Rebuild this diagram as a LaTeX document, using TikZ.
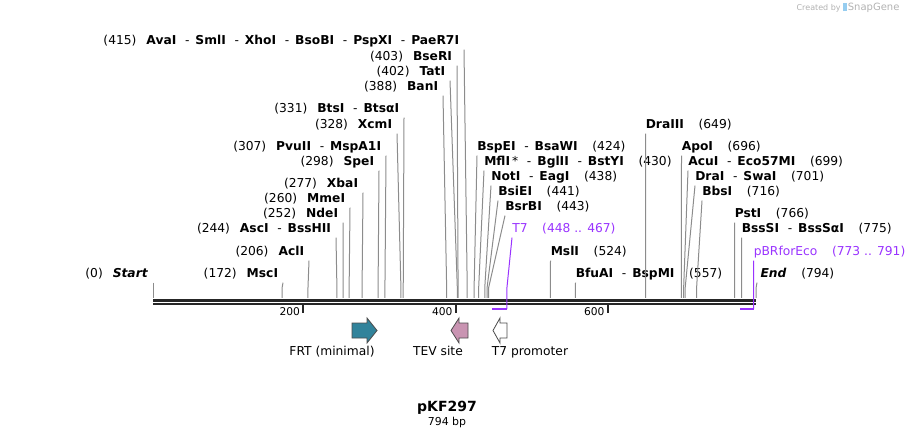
\documentclass[tikz,border=0pt]{standalone}
\usepackage{fontspec}
\setmainfont{DejaVu Sans}
\usepackage{tikz}
\usetikzlibrary{calc}

\definecolor{cutgray}{RGB}{140,140,140}
\definecolor{featpurple}{RGB}{153,51,255}
\definecolor{frtteal}{RGB}{49,131,155}
\definecolor{tevpink}{RGB}{201,148,178}
\definecolor{sgblue}{RGB}{150,205,240}

\newcommand{\lnum}[1]{(#1)\hspace{7.5pt}}
\newcommand{\rnum}[1]{\hspace{11pt}(#1)}
\newcommand{\dsh}{\hspace{6.5pt}-\hspace{4.5pt}}

\begin{document}
\begin{tikzpicture}[x=0.75pt,y=0.75pt,yscale=-1,xscale=1,
  every node/.style={font=\fontsize{9.2}{10}\selectfont, text height=6.9pt, text depth=1.6pt},
  lft/.style={anchor=east, inner xsep=3.5pt, inner ysep=2pt},
  rgt/.style={anchor=west, inner xsep=0pt, inner ysep=2pt},
  cutln/.style={draw=cutgray, line width=0.75pt},
  featln/.style={draw=featpurple, line width=0.75pt},
  featbar/.style={draw=featpurple, line width=1.6pt},
  bbone/.style={line width=2pt, black!85},
  tickmk/.style={line width=1.5pt, black!85},
  rulerlbl/.style={font=\fontsize{8}{9}\selectfont, anchor=east, inner sep=1pt},
  featarrow/.style={draw=black!70, line width=0.6pt, line join=miter},
  featlbl/.style={inner sep=1pt}
]
\useasboundingbox (0,0) rectangle (910,438);

%cut sites on the backbone
\coordinate (c0) at (153,298);
\foreach \bp in {172,206,244,252,260,277,298,307,328,331,388,402,403,415,424,430,438,441,443,524,557,649,696,699,701,716,766,775,794}
  \coordinate (c\bp) at ({151+0.762*\bp},298);
\coordinate (knee) at (0,288);

%Backbone
\draw[bbone] (153,300.2) -- (756,300.2);
\draw[bbone] (153,304) -- (756,304);

%Ruler ticks
\coordinate (t200) at (303.3,305);
\coordinate (t400) at (455.7,305);
\coordinate (t600) at (607.7,305);
\draw[tickmk] (t200) -- ++(0,8);
\draw[tickmk] (t400) -- ++(0,8);
\draw[tickmk] (t600) -- ++(0,8);
\node[rulerlbl] (l200) at (301.5,312) {200};
\node[rulerlbl] (l400) at (454,312) {400};
\node[rulerlbl] (l600) at (606,312) {600};

% Text Node (left side)
\node[lft] (ava) at (464,41) {\lnum{415}\textbf{AvaI}\dsh\textbf{SmlI}\dsh\textbf{XhoI}\dsh\textbf{BsoBI}\dsh\textbf{PspXI}\dsh\textbf{PaeR7I}};
\node[lft] (bseri) at (457,57) {\lnum{403}\textbf{BseRI}};
\node[lft] (tati) at (450,72) {\lnum{402}\textbf{TatI}};
\node[lft] (bani) at (443,87) {\lnum{388}\textbf{BanI}};
\node[lft] (btsi) at (404,109) {\lnum{331}\textbf{BtsI}\dsh\textbf{BtsαI}};
\node[lft] (xcmi) at (397,125) {\lnum{328}\textbf{XcmI}};
\node[lft] (pvuii) at (386,147) {\lnum{307}\textbf{PvuII}\dsh\textbf{MspA1I}};
\node[lft] (spei) at (379,162) {\lnum{298}\textbf{SpeI}};
\node[lft] (xbai) at (363,184) {\lnum{277}\textbf{XbaI}};
\node[lft] (mmei) at (350,199) {\lnum{260}\textbf{MmeI}};
\node[lft] (ndei) at (343,214) {\lnum{252}\textbf{NdeI}};
\node[lft] (asci) at (336,229) {\lnum{244}\textbf{AscI}\dsh\textbf{BssHII}};
\node[lft] (acli) at (309,252) {\lnum{206}\textbf{AclI}};
\node[lft] (msci) at (283,274) {\lnum{172}\textbf{MscI}};
\node[lft] (start) at (153,274) {\lnum{0}\textbf{\textit{Start}}};

% Text Node (right side)
\node[rgt] (bspei) at (477,147) {\textbf{BspEI}\dsh\textbf{BsaWI}\rnum{424}};
\node[rgt] (mfli) at (484,162) {\textbf{MflI}\,*\dsh\textbf{BglII}\dsh\textbf{BstYI}\rnum{430}};
\node[rgt] (noti) at (491,177) {\textbf{NotI}\dsh\textbf{EagI}\rnum{438}};
\node[rgt] (bsiei) at (498,192) {\textbf{BsiEI}\rnum{441}};
\node[rgt] (bsrbi) at (505,207) {\textbf{BsrBI}\rnum{443}};
\node[rgt, text=featpurple] (t7) at (512,229) {T7\rnum{448 .. 467}};
\node[rgt] (msli) at (550.5,252) {\textbf{MslI}\rnum{524}};
\node[rgt] (bfuai) at (575.5,274) {\textbf{BfuAI}\dsh\textbf{BspMI}\rnum{557}};
\node[rgt] (draiii) at (645.5,125) {\textbf{DraIII}\rnum{649}};
\node[rgt] (apoi) at (681.5,147) {\textbf{ApoI}\rnum{696}};
\node[rgt] (acui) at (688,162) {\textbf{AcuI}\dsh\textbf{Eco57MI}\rnum{699}};
\node[rgt] (drai) at (695,177) {\textbf{DraI}\dsh\textbf{SwaI}\rnum{701}};
\node[rgt] (bbsi) at (702,192) {\textbf{BbsI}\rnum{716}};
\node[rgt] (psti) at (734.5,214) {\textbf{PstI}\rnum{766}};
\node[rgt] (bsssi) at (741.5,229) {\textbf{BssSI}\dsh\textbf{BssSαI}\rnum{775}};
\node[rgt, text=featpurple] (pbr) at (753.5,252) {pBRforEco\rnum{773 .. 791}};
\node[rgt] (endl) at (757,274) {\hspace{2.5pt}\textbf{\textit{End}}\rnum{794}};

%Straight Lines (left side)
\draw[cutln] (ava.south east) -- (c415 |- knee) -- (c415);
\draw[cutln] (bseri.south east) -- (c403 |- knee) -- (c403);
\draw[cutln] (tati.south east) -- (c402 |- knee) -- (c402);
\draw[cutln] (bani.south east) -- (c388 |- knee) -- (c388);
\draw[cutln] (btsi.south east) -- (c331 |- knee) -- (c331);
\draw[cutln] (xcmi.south east) -- (c328 |- knee) -- (c328);
\draw[cutln] (pvuii.south east) -- (c307 |- knee) -- (c307);
\draw[cutln] (spei.south east) -- (c298 |- knee) -- (c298);
\draw[cutln] (xbai.south east) -- (c277 |- knee) -- (c277);
\draw[cutln] (mmei.south east) -- (c260 |- knee) -- (c260);
\draw[cutln] (ndei.south east) -- (c252 |- knee) -- (c252);
\draw[cutln] (asci.south east) -- (c244 |- knee) -- (c244);
\draw[cutln] (acli.south east) -- (c206 |- knee) -- (c206);
\draw[cutln] (msci.south east) -- (c172 |- knee) -- (c172);
\draw[cutln] (start.south east) -- (c0);

%Straight Lines (right side)
\draw[cutln] (bspei.south west) -- (c424 |- knee) -- (c424);
\draw[cutln] (mfli.south west) -- (c430 |- knee) -- (c430);
\draw[cutln] (noti.south west) -- (c438 |- knee) -- (c438);
\draw[cutln] (bsiei.south west) -- (c441 |- knee) -- (c441);
\draw[cutln] (bsrbi.south west) -- (c443 |- knee) -- (c443);
\draw[cutln] (msli.south west) -- (c524 |- knee) -- (c524);
\draw[cutln] (bfuai.south west) -- (c557 |- knee) -- (c557);
\draw[cutln] (draiii.south west) -- (c649 |- knee) -- (c649);
\draw[cutln] (apoi.south west) -- (c696 |- knee) -- (c696);
\draw[cutln] (acui.south west) -- (c699 |- knee) -- (c699);
\draw[cutln] (drai.south west) -- (c701 |- knee) -- (c701);
\draw[cutln] (bbsi.south west) -- (c716 |- knee) -- (c716);
\draw[cutln] (psti.south west) -- (c766 |- knee) -- (c766);
\draw[cutln] (bsssi.south west) -- (c775 |- knee) -- (c775);
\draw[cutln] (endl.south west) -- (c794 |- knee) -- (c794);

%Primer / feature bars
\coordinate (t7s) at (492.4,309);
\coordinate (t7e) at (506.9,309);
\coordinate (pbrs) at (740,309);
\coordinate (pbre) at (753.7,309);
\draw[featln] (t7.south west) -- (t7e |- knee) -- (t7e);
\draw[featln] (pbr.south west) -- (pbre);
\draw[featbar] (t7s) -- (t7e);
\draw[featbar] (pbrs) -- (pbre);

%Shape: feature arrows
\draw[featarrow, fill=frtteal] (352,323) -- (367,323) -- (367,318) -- (377,330.5) -- (367,343) -- (367,338) -- (352,338) -- cycle;
\draw[featarrow, fill=tevpink] (468,323) -- (459,323) -- (459,318) -- (451,330.5) -- (459,343) -- (459,338) -- (468,338) -- cycle;
\draw[featarrow, fill=white] (507,323) -- (500,323) -- (500,318) -- (493,330.5) -- (500,343) -- (500,338) -- (507,338) -- cycle;

% Text Node (features)
\node[featlbl] (frtlbl) at (332,352) {FRT (minimal)};
\node[featlbl] (tevlbl) at (438,352) {TEV site};
\node[featlbl] (t7plbl) at (530,352) {T7 promoter};

% Text Node (title)
\node[font=\fontsize{10.5}{12}\selectfont\bfseries, inner sep=1pt] (title) at (447,408) {pKF297};
\node[font=\fontsize{8.2}{10}\selectfont, inner sep=1pt] (size) at (447,422) {794 bp};

% Text Node (credit)
\node[font=\fontsize{6}{7}\selectfont, text=black!30, anchor=east, inner sep=1pt] (credit) at (901,7) {Created by \textcolor{sgblue}{\rule[-0.5pt]{2.5pt}{6pt}}\,\fontsize{7.5}{8}\selectfont SnapGene};

\end{tikzpicture}
\end{document}
